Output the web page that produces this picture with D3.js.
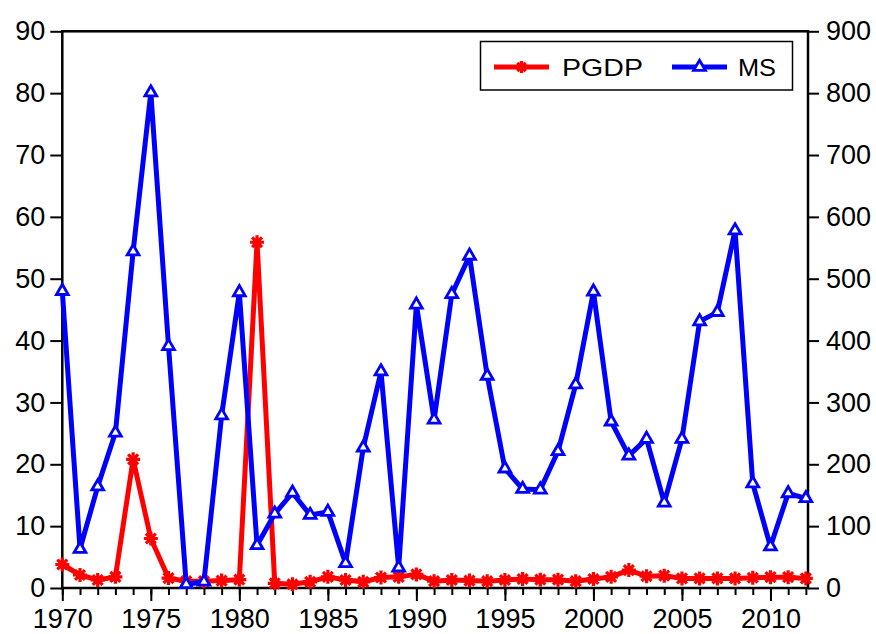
<!DOCTYPE html>
<html>
<head>
  <meta charset="utf-8">
  <title>PGDP and MS</title>
  <script src="https://cdnjs.cloudflare.com/ajax/libs/d3/7.8.5/d3.min.js"></script>
  <style>
    html, body { margin: 0; padding: 0; background: #fff; }
    svg { display: block; font-family: "Liberation Sans", Arial, sans-serif; }
  </style>
</head>
<body>
  <svg id="chart" width="876" height="634"></svg>
  <script>
    // data
    const years = d3.range(1970, 2013)
    const pgdp = [3.8, 2.1, 1.3, 1.8, 20.8, 8.0, 1.6, 1.1, 1.1, 1.2,
      1.35, 55.9, 0.75, 0.6, 1.0, 1.8, 1.3, 1.0, 1.7, 1.8,
      2.2, 1.1, 1.3, 1.2, 1.1, 1.3, 1.45, 1.35, 1.35, 1.1,
      1.45, 1.8, 2.9, 1.9, 2.0, 1.55, 1.55, 1.55, 1.55, 1.65,
      1.75, 1.75, 1.55]
    const ms = [480, 63, 164, 251, 544, 801, 391, 6, 10, 279,
      478, 69, 120, 154, 118, 123, 40, 227, 350, 33,
      458, 272, 475, 537, 343, 193, 160, 159, 221, 329,
      479, 269, 214, 241, 138, 241, 431, 446, 578, 169,
      67, 153, 145]
    const leftTicks = d3.range(0, 100, 10)
    const rightTicks = d3.range(0, 1000, 100)
    const majorYears = [1970, 1975, 1980, 1985, 1990, 1995, 2000, 2005, 2010]

    const svg = d3.select('#chart')
    const mLeft = 62.3, mRight = 808, mTop = 31.3, mBottom = 588

    const x = d3.scaleLinear().domain([1970, 2012.12]).range([mLeft, mRight])
    const yL = d3.scaleLinear().domain([0, 90]).range([mBottom, mTop])
    const yR = d3.scaleLinear().domain([0, 900]).range([mBottom, mTop])

    const fontSize = 27

    // left axis
    svg.append('g').attr('transform', `translate(${mLeft},0)`)
      .call(d3.axisLeft(yL).tickValues(leftTicks).tickSize(12).tickPadding(5))
    // right axis
    svg.append('g').attr('transform', `translate(${mRight},0)`)
      .call(d3.axisRight(yR).tickValues(rightTicks).tickSize(11).tickPadding(7))
    // bottom axis, minor then major
    svg.append('g').attr('transform', `translate(0,${mBottom})`)
      .call(d3.axisBottom(x).tickValues(years).tickSize(7).tickFormat(''))
    svg.append('g').attr('transform', `translate(0,${mBottom})`)
      .call(d3.axisBottom(x).tickValues(majorYears).tickSize(13).tickPadding(8).tickFormat(d3.format('d')))

    svg.selectAll('.domain').remove()
    svg.selectAll('.tick line').attr('stroke', '#000').attr('stroke-width', 2)
    svg.selectAll('.tick text').attr('font-size', fontSize).attr('fill', '#000')
      .attr('font-family', '"Liberation Sans", Arial, sans-serif')

    // frame
    svg.append('rect')
      .attr('x', mLeft).attr('y', mTop)
      .attr('width', mRight - mLeft).attr('height', mBottom - mTop)
      .attr('fill', 'none').attr('stroke', '#000').attr('stroke-width', 2.5)

    const star = (s) => {
      const d = s * 0.7071
      return `M0,${-s}V${s}M${-s},0H${s}M${-d},${-d}L${d},${d}M${-d},${d}L${d},${-d}`
    }
    const tri = d3.symbol().type(d3.symbolTriangle).size(60)()

    const plot = svg.append('g')

    // PGDP
    const pData = years.map((yr, i) => [yr, pgdp[i]])
    plot.append('path').datum(pData)
      .attr('fill', 'none').attr('stroke', '#ff0000').attr('stroke-width', 5)
      .attr('stroke-linejoin', 'round')
      .attr('d', d3.line().x(d => x(d[0])).y(d => yL(d[1])))
    plot.append('g').selectAll('path').data(pData).join('path')
      .attr('transform', d => `translate(${x(d[0])},${yL(d[1])})`)
      .attr('d', star(7))
      .attr('stroke', '#ff0000').attr('stroke-width', 3.2).attr('fill', 'none')

    // MS
    const mData = years.map((yr, i) => [yr, ms[i]])
    plot.append('path').datum(mData)
      .attr('fill', 'none').attr('stroke', '#0000ff').attr('stroke-width', 5)
      .attr('stroke-linejoin', 'round')
      .attr('d', d3.line().x(d => x(d[0])).y(d => yR(d[1])))
    plot.append('g').selectAll('path').data(mData).join('path')
      .attr('transform', d => `translate(${x(d[0])},${yR(d[1])})`)
      .attr('d', tri)
      .attr('stroke', '#0000ff').attr('stroke-width', 2.8).attr('fill', '#fff')

    // legend
    const lg = svg.append('g')
    lg.append('rect').attr('x', 480.5).attr('y', 41.5).attr('width', 312).attr('height', 48.5)
      .attr('fill', '#fff').attr('stroke', '#000').attr('stroke-width', 1.5)
    const items = [
      { name: 'PGDP', color: '#ff0000', x0: 494, tx: 562, len: 81, mark: star(6) },
      { name: 'MS', color: '#0000ff', x0: 672, tx: 738, len: 38, mark: tri }
    ]
    items.forEach(it => {
      lg.append('line').attr('x1', it.x0).attr('x2', it.x0 + 55)
        .attr('y1', 67).attr('y2', 67)
        .attr('stroke', it.color).attr('stroke-width', 5)
      lg.append('path').attr('transform', `translate(${it.x0 + 27.5},67)`)
        .attr('d', it.mark).attr('stroke', it.color)
        .attr('stroke-width', it.name === 'MS' ? 2.8 : 3.2)
        .attr('fill', it.name === 'MS' ? '#fff' : 'none')
      lg.append('text').attr('x', it.tx).attr('y', 75.5)
        .attr('font-size', 24).attr('fill', '#000')
        .attr('textLength', it.len).attr('lengthAdjust', 'spacingAndGlyphs')
        .text(it.name)
    })
  </script>
</body>
</html>
